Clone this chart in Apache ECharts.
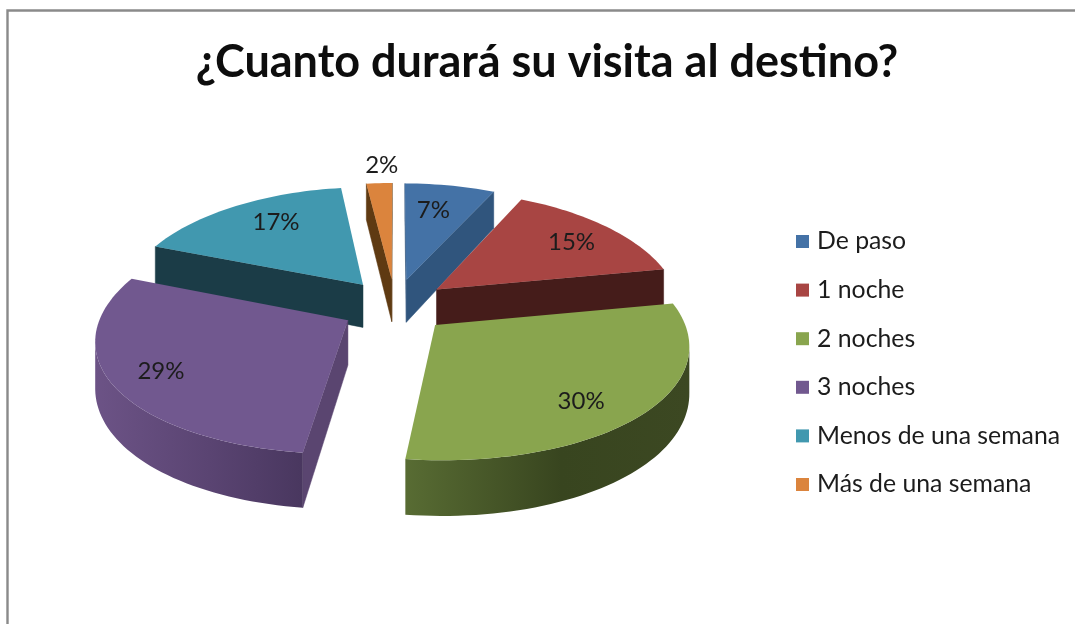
<!DOCTYPE html>
<html>
<head>
<meta charset="utf-8">
<style>html,body{margin:0;padding:0;background:#fff}#c{width:1075px;height:624px}</style>
<script src="https://cdn.jsdelivr.net/npm/echarts@6/dist/echarts.min.js"></script>
</head>
<body>
<div id="c"></div>
<script>
const titleText = '¿Cuanto durará su visita al destino?';
const categories = ['De paso', '1 noche', '2 noches', '3 noches', 'Menos de una semana', 'Más de una semana'];
const percents = [7, 15, 30, 29, 17, 2];

// styling
const topColors = ['#4472a6', '#a84543', '#89a54e', '#71588f', '#4198af', '#db843d'];
const edgeColors = ['#30557d', '#451c1a', '#3a4620', '#5a4570', '#1b3c47', '#5f3a12'];
const arcStops = [null, null, ['#586c33', '#38451f', '#3c4822'], ['#6c5386', '#5a4472', '#49375f'], null, null];
const paintOrder = [2, 4, 6, 5, 3, 1];
const labelOffset = [[27, -70], [135, -47], [146, 76], [-187, 51], [-87, -63], [-10, -114]];

// projection of the exploded disc
const view = { cx: 395, cy: 306, rx: 244, ry: 114, kx: 0.15, ky: 0.12, kh: 0.18, depth: 44, ex: 0.22, ez: 0.24 };

function project(X, Z) {
  return {
    x: view.cx + view.rx * X / (1 - view.kx * Z),
    y: view.cy + view.ry * Z / (1 - view.ky * Z),
    h: view.depth / (1 - view.kh * Z)
  };
}
function point(theta, mid, r) {
  return project(r * Math.sin(theta) + view.ex * Math.sin(mid), -r * Math.cos(theta) - view.ez * Math.cos(mid));
}
const top2 = p => [p.x, p.y];
const bot2 = p => [p.x, p.y + p.h];

function wall(a, b, style) {
  return { type: 'polygon', shape: { points: [top2(a), top2(b), bot2(b), bot2(a)] }, style: style };
}

function sliceRenderer(i) {
  return function (params, api) {
    const start = api.value(0) / 100 * 2 * Math.PI;
    const end = api.value(1) / 100 * 2 * Math.PI;
    const mid = (start + end) / 2;
    const apex = point(0, mid, 0);
    const arc = [];
    const n = Math.max(6, Math.ceil((end - start) / 0.03));
    for (let j = 0; j <= n; j++) arc.push(point(start + (end - start) * j / n, mid, 1));
    const children = [];
    const edge = { fill: edgeColors[i], stroke: edgeColors[i], lineWidth: 0.5 };
    const first = arc[0], last = arc[n];
    // only the walls turned toward the viewer are drawn
    if (last.x > apex.x) children.push(wall(last, apex, edge));
    if (first.x < apex.x) children.push(wall(apex, first, edge));
    const run = arc.filter((p, j) => (j < n && arc[j + 1].x < p.x) || (j > 0 && p.x < arc[j - 1].x));
    if (run.length > 1) {
      const stops = arcStops[i] || [edgeColors[i], edgeColors[i], edgeColors[i]];
      const fill = new echarts.graphic.LinearGradient(0, 0, 1, 0, [
        { offset: 0, color: stops[0] }, { offset: 0.55, color: stops[1] }, { offset: 1, color: stops[2] }
      ]);
      children.push({
        type: 'polygon',
        shape: { points: run.map(top2).concat(run.slice().reverse().map(bot2)) },
        style: { fill: fill }
      });
    }
    children.push({
      type: 'polygon',
      shape: { points: [top2(apex)].concat(arc.map(top2)) },
      style: { fill: topColors[i] }
    });
    children.push({
      type: 'text',
      x: apex.x + labelOffset[i][0],
      y: apex.y + labelOffset[i][1],
      style: {
        text: api.value(2) + '%', font: '24px Lato', fill: '#1c1c1c',
        align: 'center', verticalAlign: 'middle'
      }
    });
    return { type: 'group', children: children };
  };
}

let running = 0;
const series = categories.map((name, i) => {
  const from = running;
  running += percents[i];
  return {
    type: 'custom',
    name: name,
    coordinateSystem: 'none',
    silent: true,
    animation: false,
    z: paintOrder[i] + 2,
    itemStyle: { color: topColors[i] },
    renderItem: sliceRenderer(i),
    data: [[from, running, percents[i]]]
  };
});

const chart = echarts.init(document.getElementById('c'), null, { renderer: 'canvas' });
chart.setOption({
  animation: false,
  backgroundColor: '#ffffff',
  title: {
    text: titleText,
    left: 542, top: 35, textAlign: 'center',
    textStyle: { fontFamily: 'Lato', fontWeight: 'bold', fontSize: 45, color: '#0d0d0d' }
  },
  legend: {
    orient: 'vertical', left: 791, top: 224,
    icon: 'rect', itemWidth: 13, itemHeight: 13, itemGap: 23.6, align: 'left',
    selectedMode: false, data: categories,
    textStyle: { fontFamily: 'Lato', fontSize: 24.8, lineHeight: 24, color: '#1c1c1c', padding: [0, 0, 0, 3] }
  },
  graphic: [{
    type: 'polyline', silent: true,
    shape: { points: [[7.5, 630], [7.5, 10.5], [1080, 10.5]] },
    style: { stroke: '#8a8a8a', lineWidth: 2.4, fill: null }
  }],
  series: series
});
</script>
</body>
</html>
